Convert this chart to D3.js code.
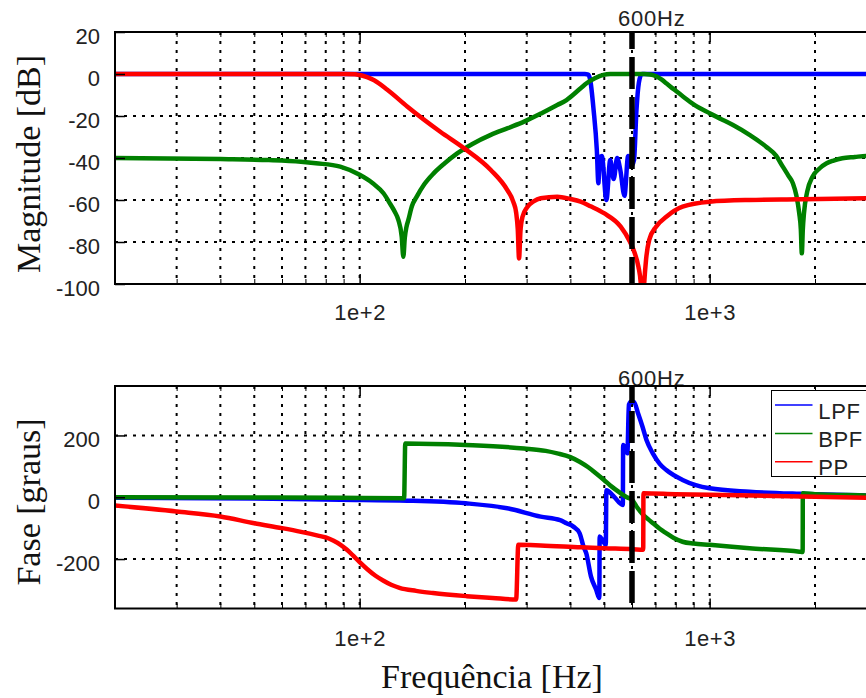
<!DOCTYPE html>
<html>
<head>
<meta charset="utf-8">
<script src="https://cdnjs.cloudflare.com/ajax/libs/d3/7.8.5/d3.min.js"></script>
<style>
  body { margin: 0; background: #fff; }
  svg { display: block; }
</style>
</head>
<body>
<div id="chart"></div>
<script>
// ---- data ----
// magnitude [dB]
var lpfMagF = [20, 100, 300, 440, 450, 456, 466, 476, 481, 485, 492, 507, 520, 532, 544, 556, 571, 585, 597, 608, 618, 628, 640, 660, 1000, 3000];
var lpfMagDb = [0, 0, 0, 0, -0.3, -3, -17, -36, -52, -40, -39, -60, -41, -50, -40, -46, -58, -39, -44, -41, -17, -4, 0, 0, 0, 0];

var bpfMagF = [20, 40, 55, 68, 75, 88, 100, 109, 117, 122, 126, 129, 131.9, 133.3, 134.6, 136, 137.8, 141, 145.6, 153, 162.7, 175,
  190, 210, 237, 265, 295, 330, 367, 390, 428, 445, 470, 497, 520, 650, 675, 689, 706, 730, 752, 790,
  841, 900, 1000, 1080, 1166, 1300, 1450, 1550, 1618, 1680, 1729, 1770, 1803, 1822, 1834, 1846, 1860, 1900, 1968, 2060,
  2159, 2260, 2394, 2600, 2800, 3000];
var bpfMagDb = [-40, -40.5, -41, -41.8, -42.5, -44.1, -48, -52, -56.8, -61.6, -65.6, -69.5, -77.5, -87, -78, -73, -69.5, -63, -58.4, -52.5, -47.3, -42.5,
  -37.8, -33.3, -29, -25.8, -22.7, -18.8, -14.8, -12.4, -6.8, -4.4, -2, -0.4, 0, 0, -0.2, -0.5, -1.2, -2.7, -4.4, -7.3,
  -10.8, -14.5, -18.7, -21.5, -24.3, -29, -34.6, -39, -44.1, -48.5, -52, -58, -66.3, -74, -85.4, -74, -66.3, -56, -48.9, -45,
  -42.5, -41.2, -40.1, -39.5, -39, -38.8];

var ppMagF = [20, 90, 97, 100, 105, 110, 120, 137, 170, 199, 237, 264, 275, 280, 283, 285.4, 288, 292, 301, 315,
  329, 367, 400, 428, 457, 499, 557, 592, 610, 626, 636, 643, 650, 658, 672, 703, 752, 837, 1000, 1300,
  1805, 2800, 3000];
var ppMagDb = [0, 0, -0.1, -0.5, -1.5, -3, -7.5, -15.6, -27.5, -35.4, -45.7, -55.2, -61, -66, -74, -87.8, -75, -68, -63.5, -60.5,
  -59.2, -58.4, -59.5, -60.8, -63, -66.3, -72.7, -79.9, -85, -91.8, -100, -115, -100, -88.6, -79, -72.7, -68, -63.2, -60.8, -60,
  -59.7, -59.2, -59.1];

// phase [graus]
var lpfPhF = [20, 50, 88, 137, 201, 264, 329, 374, 390, 408, 425, 436, 444, 458, 474, 484, 485, 495, 505, 507,
  530, 565, 566, 575, 582, 588, 598, 608, 625, 643, 660, 688, 720, 752, 837, 1000, 1300, 1805, 2800, 3000];
var lpfPhDeg = [-1.5, -4, -8, -11, -19.6, -35.6, -62.6, -74, -84, -95, -116, -159, -181, -256, -299, -326, -127, -140, -154, 23,
  5, -25, 169, 155, 142, 300, 310, 308, 270, 228, 185, 142, 108, 88, 56, 29, 18, 11, 6, 5];

var bpfPhF = [20, 88, 134, 135, 201, 295, 340, 367, 400, 425, 450, 475, 500, 520, 540, 580, 600, 618, 650, 672,
  689, 720, 751, 790, 837, 900, 1000, 1300, 1805, 1844, 1846, 2000, 2800, 3000];
var bpfPhDeg = [0, -2, -3, 174, 169, 158, 150, 142, 130, 115, 97, 76, 55, 38, 24, 0, -8, -30, -60, -74,
  -84, -102, -116, -132, -144, -150, -154, -165, -176, -177, 13, 10, 6, 5];

var ppPhF = [20, 30, 40, 50, 60, 68, 76, 80, 84, 88, 92, 96, 100, 105, 111, 117, 123, 130, 145, 162,
  202, 240, 280, 284, 329, 428, 500, 604, 646, 647, 800, 1000, 2000, 3000];
var ppPhDeg = [-27, -46, -62, -84, -100, -112, -124, -130, -140, -153, -170, -190, -210, -232, -254, -270, -283, -293, -303, -310,
  -320, -326, -331, -154, -156, -162, -165, -168, -170, 13, 10, 8, 2, -2];

// axis ticks and labels
var magTicks = [20, 0, -20, -40, -60, -80, -100];
var phaseTicks = [200, 0, -200];
var xLabelTicks = [100, 1000];
var markerFreq = 600;
var legendNames = ["LPF", "BPF", "PP"];
var seriesColors = ["#0000ff", "#008000", "#ff0000"];

// ---- setup ----
var svgWidth = 866;
var svgHeight = 698;
var sansFont = '"Liberation Sans", Arial, sans-serif';
var serifFont = '"Liberation Serif", "Times New Roman", serif';

var svg = d3.select("#chart")
  .append("svg")
  .attr("width", svgWidth)
  .attr("height", svgHeight);

// shared log x scale; the right side of the plot runs past the window edge
var plotLeft = 115;
var xScale = d3.scaleLog()
  .domain([20, 3000])
  .range([plotLeft, plotLeft + 350 * Math.log10(150)]);
var plotRight = xScale(3000);

var gridFreqs = xScale.ticks().filter(f => f > 20 && f < 3000);

var panels = [
  {
    top: 32, bottom: 284, domain: [-100, 20], ticks: magTicks,
    series: [[lpfMagF, lpfMagDb], [bpfMagF, bpfMagDb], [ppMagF, ppMagDb]],
    tickPad: 20, title: "Magnitude [dB]", titleY: 164, markerY: 26
  },
  {
    top: 386, bottom: 608.5, domain: [-360, 360], ticks: phaseTicks,
    series: [[lpfPhF, lpfPhDeg], [bpfPhF, bpfPhDeg], [ppPhF, ppPhDeg]],
    tickPad: 22, title: "Fase [graus]", titleY: 502, markerY: 386
  }
];

panels.forEach(function(p, i) {
  var yScale = d3.scaleLinear().domain(p.domain).range([p.bottom, p.top]);
  var g = svg.append("g");

  // clip curves to the plot box
  var clipId = "clip" + i;
  svg.append("clipPath").attr("id", clipId)
    .append("rect")
    .attr("x", plotLeft).attr("y", p.top)
    .attr("width", plotRight - plotLeft).attr("height", p.bottom - p.top);

  // dotted grid
  var grid = g.append("g")
    .attr("stroke", "#000")
    .attr("stroke-width", 2)
    .attr("stroke-dasharray", "3,6");
  grid.selectAll(".vgrid")
    .data(gridFreqs)
    .enter()
    .append("line")
    .attr("x1", d => xScale(d)).attr("x2", d => xScale(d))
    .attr("y1", p.top).attr("y2", p.bottom);
  grid.selectAll(".hgrid")
    .data(p.ticks)
    .enter()
    .append("line")
    .attr("x1", plotLeft).attr("x2", plotRight)
    .attr("y1", d => yScale(d)).attr("y2", d => yScale(d));

  // curves: LPF, BPF, PP (red on top)
  var line = d3.line()
    .x(d => xScale(d[0]))
    .y(d => yScale(d[1]))
    .curve(d3.curveMonotoneX);

  var curves = g.append("g").attr("clip-path", `url(#${clipId})`);
  p.series.forEach(function(s, k) {
    curves.append("path")
      .datum(d3.zip(s[0], s[1]))
      .attr("d", line)
      .attr("fill", "none")
      .attr("stroke", seriesColors[k])
      .attr("stroke-width", 4.5)
      .attr("stroke-linejoin", "round");
  });

  // 600 Hz marker
  g.append("line")
    .attr("x1", xScale(markerFreq)).attr("x2", xScale(markerFreq))
    .attr("y1", p.top).attr("y2", p.bottom)
    .attr("stroke", "#000")
    .attr("stroke-width", 5.5)
    .attr("stroke-dasharray", "32,8")
    .attr("stroke-dashoffset", 15);

  g.append("text")
    .attr("x", 618)
    .attr("y", p.markerY)
    .attr("font-family", sansFont)
    .attr("font-size", 22)
    .attr("letter-spacing", 0.8)
    .attr("fill", "#222")
    .text(markerFreq + "Hz");

  // plot frame
  g.append("rect")
    .attr("x", plotLeft).attr("y", p.top)
    .attr("width", plotRight - plotLeft).attr("height", p.bottom - p.top)
    .attr("fill", "none")
    .attr("stroke", "#000")
    .attr("stroke-width", 2);

  // y axis (inward ticks), plain hyphen for negatives
  var leftAxis = d3.axisLeft(yScale).tickValues(p.ticks)
    .tickFormat(d => String(d)).tickSize(-10).tickPadding(15);
  g.append("g")
    .attr("transform", `translate(${plotLeft}, 0)`)
    .call(leftAxis)
    .call(a => a.select(".domain").remove())
    .call(a => a.selectAll("line").attr("stroke-width", 1.5))
    .call(a => a.selectAll("text")
      .attr("dy", "0.52em")
      .attr("font-family", sansFont)
      .attr("font-size", 22)
      .attr("fill", "#222"));

  // x axis: labelled decades + minor ticks, bottom and top
  var bottomAxis = d3.axisBottom(xScale).tickValues(xLabelTicks)
    .tickFormat(d3.format(".0e")).tickSize(-10).tickPadding(p.tickPad);
  g.append("g")
    .attr("transform", `translate(0, ${p.bottom})`)
    .call(bottomAxis)
    .call(a => a.select(".domain").remove())
    .call(a => a.selectAll("line").attr("stroke-width", 1.5))
    .call(a => a.selectAll("text")
      .attr("font-family", sansFont)
      .attr("font-size", 22)
      .attr("letter-spacing", 0.5)
      .attr("fill", "#222"));

  var minorFreqs = gridFreqs.filter(f => xLabelTicks.indexOf(f) < 0);
  g.append("g")
    .attr("transform", `translate(0, ${p.bottom})`)
    .call(d3.axisBottom(xScale).tickValues(minorFreqs).tickFormat("").tickSize(-5))
    .call(a => a.select(".domain").remove());
  g.append("g")
    .attr("transform", `translate(0, ${p.top})`)
    .call(d3.axisTop(xScale).tickValues(xLabelTicks).tickFormat("").tickSize(-10))
    .call(a => a.select(".domain").remove())
    .call(a => a.selectAll("line").attr("stroke-width", 1.5));
  g.append("g")
    .attr("transform", `translate(0, ${p.top})`)
    .call(d3.axisTop(xScale).tickValues(minorFreqs).tickFormat("").tickSize(-5))
    .call(a => a.select(".domain").remove());

  // y title
  svg.append("text")
    .attr("transform", `translate(40, ${p.titleY}) rotate(-90)`)
    .attr("text-anchor", "middle")
    .attr("font-family", serifFont)
    .attr("font-size", 34)
    .attr("fill", "#111")
    .text(p.title);
});

// x title
svg.append("text")
  .attr("x", 492)
  .attr("y", 688)
  .attr("text-anchor", "middle")
  .attr("font-family", serifFont)
  .attr("font-size", 34)
  .attr("fill", "#111")
  .text("Frequência [Hz]");

// legend (cut off by the window on the right)
var legend = svg.append("g").attr("transform", "translate(771.5, 390.5)");
legend.append("rect")
  .attr("width", 130)
  .attr("height", 86)
  .attr("fill", "#fff")
  .attr("stroke", "#000")
  .attr("stroke-width", 1);

legendNames.forEach(function(name, k) {
  var ly = 14.5 + k * 28.4;
  legend.append("line")
    .attr("x1", 3.5).attr("x2", 41)
    .attr("y1", ly).attr("y2", ly)
    .attr("stroke", seriesColors[k])
    .attr("stroke-width", 1.5);
  legend.append("text")
    .attr("x", 46.8)
    .attr("y", ly + 13.5)
    .attr("font-family", sansFont)
    .attr("font-size", 22)
    .attr("letter-spacing", 0.6)
    .attr("fill", "#222")
    .text(name);
});
</script>
</body>
</html>
